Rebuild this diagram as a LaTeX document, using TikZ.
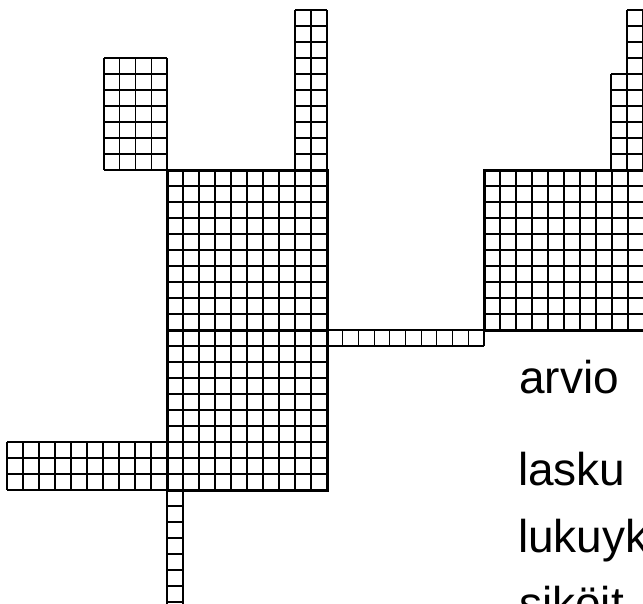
\documentclass[tikz,border=0pt]{standalone}
\usepackage{fontspec}
\setmainfont{Liberation Sans}
\tikzset{
  gridline/.style={line width=1.1pt, black},
  border/.style={line width=3pt, black, line cap=rect},
  label/.style={anchor=base west, inner sep=0pt, font=\fontsize{46}{55}\selectfont},
}
% #1 x, #2 y, #3 cols, #4 rows, #5 cell width, #6 cell height
\newcommand\gblock[6]{%
  \foreach \i in {0,...,#3}{\draw[gridline] ({#1+\i*#5},#2) -- ++(0,{#4*#6});}
  \foreach \j in {0,...,#4}{\draw[gridline] (#1,{#2+\j*#6}) -- ++({#3*#5},0);}
}
\begin{document}
\begin{tikzpicture}[x=1pt,y=-1pt]
\useasboundingbox (0,0) rectangle (643,603);
\clip (0,0) rectangle (643,603);
% small attached blocks
\gblock{104}{58}{4}{7}{15.75}{16}
\gblock{295}{10}{2}{10}{16}{16}
\gblock{611}{74}{1}{6}{16}{16}
\gblock{627}{10}{2}{10}{16}{16}
\gblock{327}{330}{10}{1}{15.7}{16}
\gblock{7}{442}{10}{3}{16}{16}
\gblock{167}{490}{1}{8}{16}{16}
% main squares
\gblock{167}{170}{10}{10}{16}{16}
\gblock{167}{330}{10}{10}{16}{16}
\gblock{484}{170}{10}{10}{16}{16}
\draw[border] (167,170) rectangle (327,330);
\draw[border] (167,330) rectangle (327,490);
\draw[border] (484,170) rectangle (644,330);
\draw[line width=2pt] (104,170) -- (167,170);
\draw[line width=2.5pt] (327,330) -- (484,330);
% texts
\node[label] (t1) at (519,393) {arvio};
\node[label] (t2) at (518,485) {lasku};
\node[label] (t3) at (518,552) {lukuyk};
\node[label] (t4) at (519,619) {siköit};
\end{tikzpicture}
\end{document}
